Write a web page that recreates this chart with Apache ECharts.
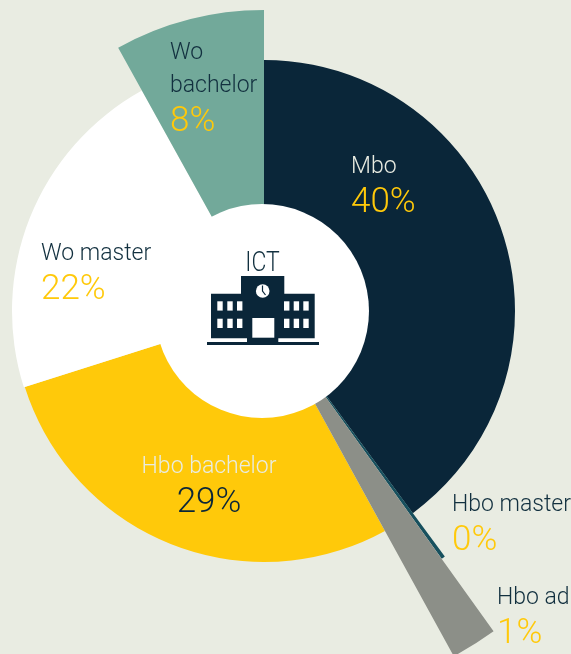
<!DOCTYPE html>
<html><head><meta charset="utf-8">
<style>html,body{margin:0;padding:0;background:#e9ece2}#c{width:571px;height:654px}</style>
<script src="https://cdn.jsdelivr.net/npm/echarts@6/dist/echarts.min.js"></script>
</head><body><div id="c"></div>
<script>
const categories = ['Mbo','Hbo master','Hbo ad','Hbo bachelor','Wo master','Wo bachelor'];
const percentLabels = ['40%','0%','1%','29%','22%','8%'];
const sectorShares = [39.9,0.2,1.9,28.1,21.85,8.05];
const outerRadii = [251,305,394,251,252,301];
const sliceColors = ['#0a2639','#17505e','#8c8f88','#ffc90a','#ffffff','#72a99a'];
const nameColors = ['#e9ece2','#12303f','#12303f','#e9ece2','#12303f','#12303f'];
const percentColors = ['#ffc90a','#ffc90a','#ffc90a','#0a2639','#ffc90a','#ffc90a'];
const displayNames = ['Mbo','Hbo master','Hbo ad','Hbo bachelor','Wo master','Wo\nbachelor'];
const labelAnchors = [[351,151,'left'],[452,489,'left'],[497,582,'left'],[209,451,'center'],[41,238,'left'],[170,37,'left']];

const FONT = 'Roboto';
const CX = 264, CY = 311;
const chart = echarts.init(document.getElementById('c'));

const sliceSeries = categories.map((name, i) => ({
  type: 'pie', silent: true, animation: false, avoidLabelOverlap: false,
  center: [CX, CY], radius: [80, outerRadii[i]], startAngle: 90, clockwise: true,
  z: i === 2 ? 3 : 2,
  data: categories.map((n, j) => ({
    name: n, value: sectorShares[j],
    itemStyle: { color: j === i ? sliceColors[i] : 'rgba(0,0,0,0)', borderWidth: 0 },
    label: { show: j === i }
  })),
  labelLine: { show: false },
  label: {
    position: 'inside', fontFamily: FONT,
    formatter: () => displayNames[i].split('\n').map(s => '{n|' + s + '}').join('\n') + '\n{p|' + percentLabels[i] + '}',
    rich: {
      n: { fontFamily: FONT, fontWeight: 300, fontSize: 23, lineHeight: 33, color: nameColors[i], align: labelAnchors[i][2] },
      p: { fontFamily: FONT, fontWeight: 300, fontSize: 35, lineHeight: 38, color: percentColors[i], align: labelAnchors[i][2] }
    }
  },
  labelLayout: () => ({ x: labelAnchors[i][0], y: labelAnchors[i][1], align: labelAnchors[i][2], verticalAlign: 'top', hideOverlap: false })
}));

const holeSeries = {
  type: 'pie', silent: true, animation: false, center: [262, 311], radius: [0, 107], z: 5,
  label: { show: false }, labelLine: { show: false },
  data: [{ value: 1, itemStyle: { color: '#ffffff' } }]
};

const navy = '#0a2639';
const r = (x, y, w, h, fill) => ({ type: 'rect', z: 10, silent: true, shape: { x, y, width: w, height: h }, style: { fill } });
const windowXs = [217.3,227.3,237,284,293.7,303.3], windowYs = [301.3,318.7];
const icon = [
  r(207,342,112,3,navy), r(247,338,31.3,5,navy), r(211,293.7,103.7,44.6,navy), r(241,276,43.3,40,navy),
  r(252.3,318,22,19.7,'#ffffff')
];
windowXs.forEach(x => windowYs.forEach(y => icon.push(r(x,y,5.4,9.3,'#ffffff'))));
icon.push({ type: 'circle', z: 10, silent: true, shape: { cx: 262.7, cy: 291, r: 6.8 }, style: { fill: '#ffffff' } });
icon.push({ type: 'polyline', z: 11, silent: true, shape: { points: [[262.5,285.5],[262.5,291],[265.5,295]] }, style: { stroke: navy, lineWidth: 1.2, fill: null } });
icon.push({ type: 'text', z: 10, silent: true, x: 262.5, y: 263.5, scaleX: 0.82, style: { x: 0, y: 0, text: 'ICT', align: 'center', verticalAlign: 'middle', fontFamily: FONT, fontWeight: 300, fontSize: 28, fill: '#12303f' } });

chart.setOption({
  backgroundColor: '#e9ece2',
  series: [holeSeries, ...sliceSeries],
  graphic: icon
});
</script></body></html>
